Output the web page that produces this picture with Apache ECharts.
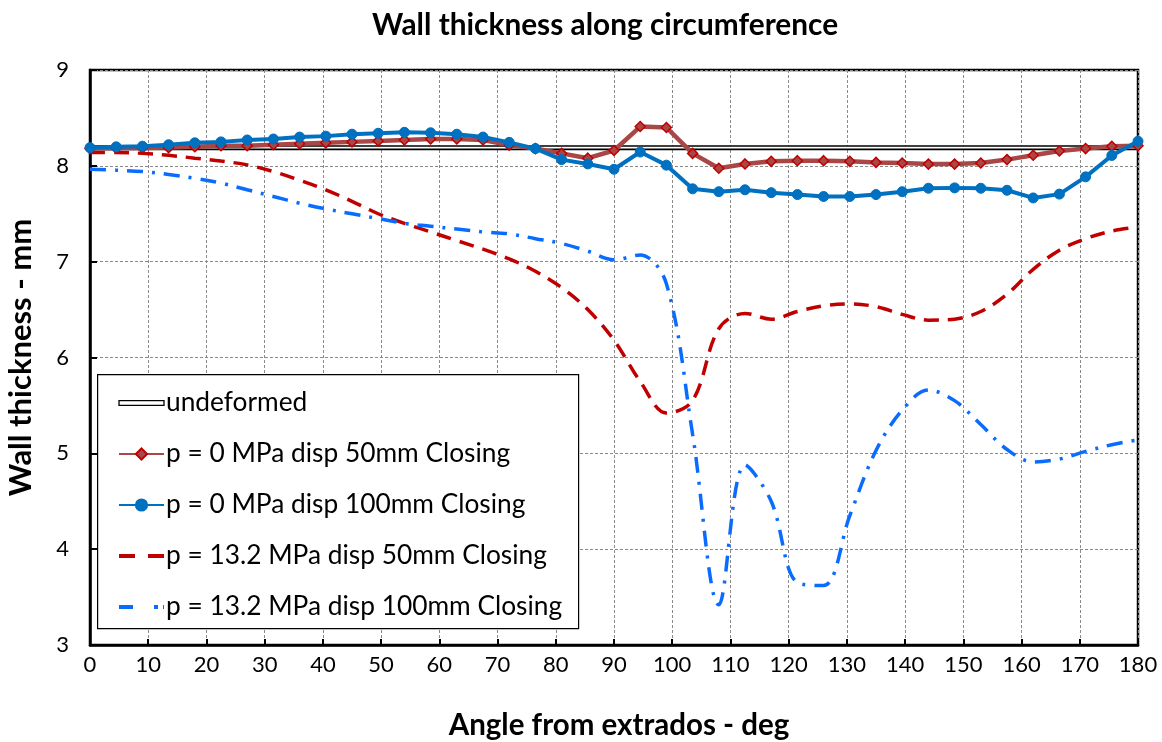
<!DOCTYPE html>
<html>
<head>
<meta charset="utf-8">
<script src="https://cdn.jsdelivr.net/npm/echarts@6/dist/echarts.min.js"></script>
<style>html,body{margin:0;padding:0;background:#fff;}#c{width:1162px;height:742px;}</style>
</head>
<body>
<div id="c"></div>
<script>
const angles = [0,4.5,9,13.5,18,22.5,27,31.5,36,40.5,45,49.5,54,58.5,63,67.5,72,76.5,81,85.5,90,94.5,99,103.5,108,112.5,117,121.5,126,130.5,135,139.5,144,148.5,153,157.5,162,166.5,171,175.5,180];
const undeformedX = [0, 180];
const undeformedY = [8.19, 8.19];
const p0d50 = [8.18,8.184,8.187,8.19,8.20,8.21,8.21,8.22,8.23,8.24,8.25,8.26,8.27,8.28,8.28,8.27,8.216,8.18,8.13,8.08,8.16,8.41,8.40,8.13,7.975,8.02,8.047,8.054,8.054,8.047,8.036,8.03,8.018,8.018,8.03,8.065,8.11,8.155,8.18,8.205,8.21];
const p0d100 = [8.19,8.198,8.205,8.22,8.24,8.25,8.27,8.28,8.30,8.31,8.33,8.34,8.35,8.345,8.33,8.30,8.245,8.18,8.065,8.02,7.964,8.144,8.007,7.76,7.73,7.75,7.72,7.70,7.68,7.68,7.70,7.73,7.766,7.77,7.766,7.745,7.665,7.705,7.885,8.108,8.256];
const p13d50 = [8.14,8.14,8.13,8.11,8.08,8.05,8.01,7.94,7.85,7.75,7.63,7.50,7.40,7.31,7.22,7.13,7.03,6.90,6.73,6.50,6.18,5.75,5.42,5.55,6.30,6.46,6.40,6.48,6.54,6.56,6.53,6.45,6.39,6.40,6.48,6.66,6.92,7.12,7.24,7.32,7.36];
const p13d100 = [7.965,7.955,7.94,7.91,7.87,7.82,7.75,7.68,7.61,7.55,7.50,7.45,7.40,7.37,7.34,7.31,7.29,7.24,7.19,7.11,7.02,7.07,6.77,5.20,3.42,4.88,4.50,3.65,3.62,4.35,5.03,5.45,5.66,5.55,5.30,5.04,4.91,4.94,5.02,5.09,5.14];
const xTicks = {min: 0, max: 180, interval: 10};
const yTicks = {min: 3, max: 9, interval: 1};
const names = ['undeformed','p = 0 MPa disp 50mm Closing','p = 0 MPa disp 100mm Closing','p = 13.2 MPa disp 50mm Closing','p = 13.2 MPa disp 100mm Closing'];

const pair = (xs, ys) => xs.map((x, i) => [x, ys[i]]);
const FONT = 'Lato';

const chart = echarts.init(document.getElementById('c'), null, {renderer: 'canvas'});
chart.setOption({
  animation: false,
  backgroundColor: '#fff',
  title: {
    text: 'Wall thickness along circumference',
    left: 367, top: 5,
    textStyle: {fontFamily: FONT, fontWeight: 'bold', fontSize: 29.8, color: '#000'}
  },
  grid: {left: 90, right: 24, top: 70, bottom: 97, containLabel: false, outerBoundsMode: 'none',
         show: true, borderColor: '#000', borderWidth: 2.5, backgroundColor: 'transparent'},
  xAxis: {
    type: 'value', min: xTicks.min, max: xTicks.max, interval: xTicks.interval,
    name: 'Angle from extrados - deg', nameLocation: 'middle', nameGap: 65,
    nameTextStyle: {fontFamily: FONT, fontWeight: 'bold', fontSize: 29.5, color: '#000', padding: [0, 0, 0, 10]},
    axisLine: {lineStyle: {color: '#000', width: 2.5}},
    axisTick: {inside: true, length: 6, lineStyle: {color: '#000', width: 2}},
    axisLabel: {fontFamily: FONT, fontSize: 22, color: '#000', margin: 9},
    splitLine: {show: true, lineStyle: {color: '#8a8a8a', type: [3, 2], width: 1}}
  },
  yAxis: {
    type: 'value', min: yTicks.min, max: yTicks.max, interval: yTicks.interval,
    name: 'Wall thickness - mm', nameLocation: 'middle', nameGap: 54,
    nameTextStyle: {fontFamily: FONT, fontWeight: 'bold', fontSize: 31, color: '#000'},
    axisLine: {show: true, lineStyle: {color: '#000', width: 2.5}},
    axisTick: {show: true, inside: true, length: 7, lineStyle: {color: '#000', width: 2}},
    axisLabel: {fontFamily: FONT, fontSize: 22, color: '#000', margin: 21},
    splitLine: {show: true, lineStyle: {color: '#8a8a8a', type: [3, 2], width: 1}}
  },
  graphic: [{
    type: 'rect', left: 97, top: 374, z: 50,
    shape: {width: 481, height: 254},
    style: {fill: '#fff', stroke: '#000', lineWidth: 1.2}
  }],
  legend: {
    orient: 'vertical', left: 113, top: 385, z: 60,
    itemWidth: 45, itemHeight: 14, itemGap: 25,
    textStyle: {fontFamily: FONT, fontSize: 26.3, color: '#000', lineHeight: 24, padding: [0, 0, 0, -3]},
    data: [
      {name: names[0], icon: 'path://M0,0H46V5H0Z', itemStyle: {color: '#fff', borderColor: '#000', borderWidth: 1.3}},
      {name: names[1]}, {name: names[2]},
      {name: names[3], icon: 'path://M0,0H16V4H0Z M29,0H45V4H29Z', itemStyle: {color: '#C00000', borderWidth: 0}},
      {name: names[4], icon: 'path://M0,0H14V4H0Z M35,0H39V4H35Z M44,0H45V4H44Z', itemStyle: {color: '#0A6CFF', borderWidth: 0}}
    ]
  },
  series: [
    {name: names[0], type: 'line', data: pair(undeformedX, undeformedY), symbol: 'none', z: 2,
     lineStyle: {color: '#000', width: 5}, itemStyle: {color: '#000'}},
    {name: names[0], type: 'line', data: pair(undeformedX, undeformedY), symbol: 'none', z: 2,
     lineStyle: {color: '#fff', width: 1.6}, itemStyle: {color: '#fff'}},
    {name: names[3], type: 'line', data: pair(angles, p13d50), symbol: 'none', smooth: 0.35, z: 3,
     lineStyle: {color: '#C00000', width: 3.5, type: [15, 9]}, itemStyle: {color: '#C00000'}},
    {name: names[4], type: 'line', data: pair(angles, p13d100), symbol: 'none', smooth: 0.35, z: 3,
     lineStyle: {color: '#0A6CFF', width: 3.5, type: [16, 9, 3, 9]}, itemStyle: {color: '#0A6CFF'}},
    {name: names[1], type: 'line', data: pair(angles, p0d50), symbol: 'diamond', symbolSize: 10, z: 4,
     lineStyle: {color: '#A94646', width: 4.5},
     itemStyle: {color: '#A94646', borderColor: '#C00000', borderWidth: 1.5}},
    {name: names[2], type: 'line', data: pair(angles, p0d100), symbol: 'circle', symbolSize: 10, z: 5,
     lineStyle: {color: '#0070C0', width: 4}, itemStyle: {color: '#0070C0', borderColor: '#0070C0', borderWidth: 1}}
  ]
});
</script>
</body>
</html>
